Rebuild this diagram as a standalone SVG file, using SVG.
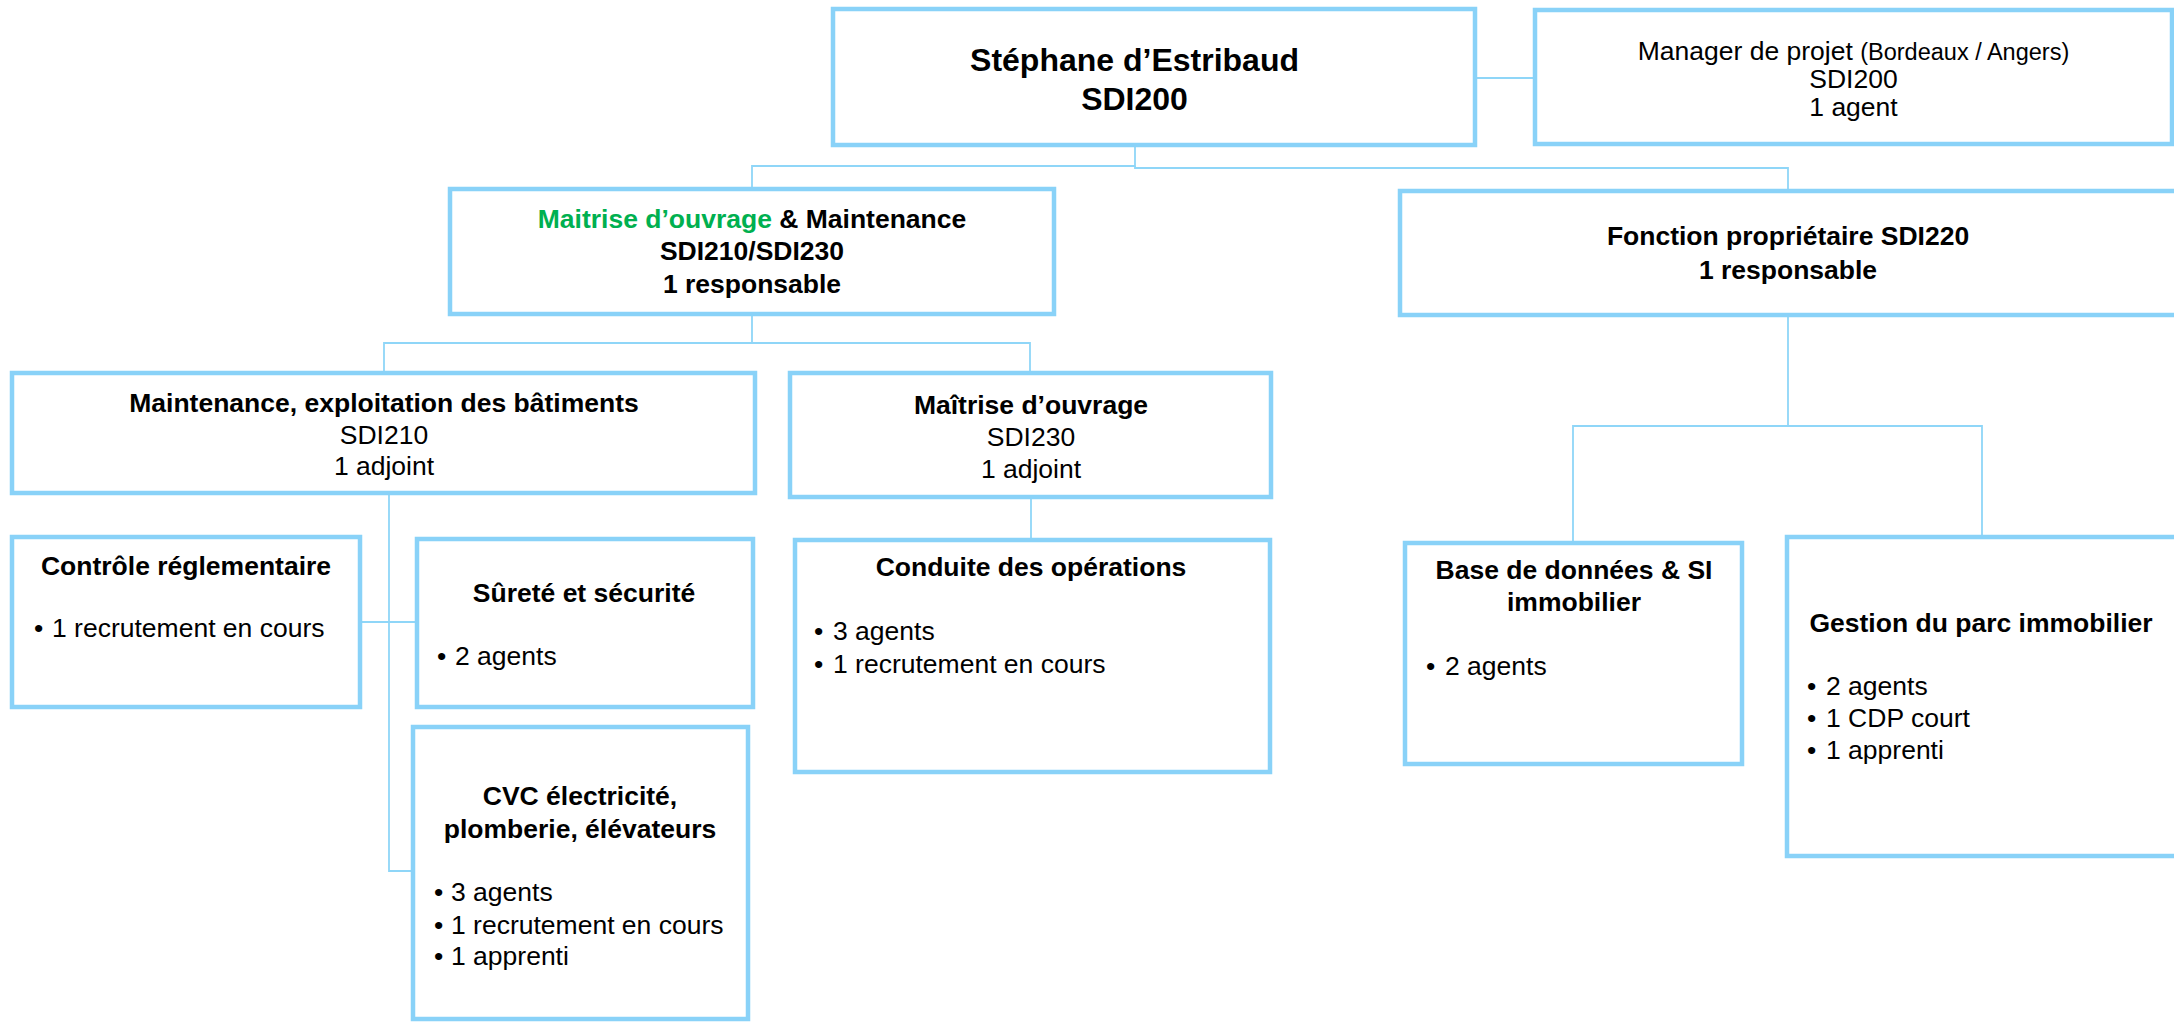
<svg xmlns="http://www.w3.org/2000/svg" width="2174" height="1022" viewBox="0 0 2174 1022">
<style>
.box{fill:#fff;stroke:#89D2F8;stroke-width:4.5}
.con{fill:none;stroke:#8FD6F8;stroke-width:1.8}
text{font-family:"Liberation Sans",Arial,sans-serif;fill:#000}
.t{font-size:26.5px;font-weight:bold;text-anchor:middle}
.r{font-size:26.5px;text-anchor:middle}
.b{font-size:26.5px}
.big{font-size:32px;font-weight:bold;text-anchor:middle}
.g{fill:#00B050}
.m{font-size:26.5px;text-anchor:middle}
</style>
<rect width="2174" height="1022" fill="#fff"/>
<g id="connectors">
<path class="con" d="M1475 78 H1535"/>
<path class="con" d="M1135 145 V166 H752 V189"/>
<path class="con" d="M1135 166 V168 H1788 V191"/>
<path class="con" d="M752 314 V343 H384 V373"/>
<path class="con" d="M752 343 H1030 V373"/>
<path class="con" d="M389 493 V871 H413"/>
<path class="con" d="M360 622 H417"/>
<path class="con" d="M1031 497 V540"/>
<path class="con" d="M1788 315 V426 H1573 V543"/>
<path class="con" d="M1788 426 H1982 V537"/>
</g>
<g id="n-director">
<rect class="box" x="833" y="9" width="642" height="136"/>
<text class="big" x="1134.5" y="71">Stéphane d’Estribaud</text>
<text class="big" x="1134.5" y="110">SDI200</text>
</g>
<g id="n-manager">
<rect class="box" x="1535" y="10" width="637" height="134"/>
<text class="m" x="1853.5" y="60">Manager de projet <tspan style="font-size:23.5px">(Bordeaux / Angers)</tspan></text>
<text class="m" x="1853.5" y="88">SDI200</text>
<text class="m" x="1853.5" y="116">1 agent</text>
</g>
<g id="n-moa-maint">
<rect class="box" x="450" y="189" width="604" height="125"/>
<text class="t" x="752" y="228"><tspan class="g">Maitrise d’ouvrage</tspan> &amp; Maintenance</text>
<text class="t" x="752" y="260">SDI210/SDI230</text>
<text class="t" x="752" y="293">1 responsable</text>
</g>
<g id="n-fonction">
<rect class="box" x="1400" y="191" width="790" height="124"/>
<text class="t" x="1788" y="245">Fonction propriétaire SDI220</text>
<text class="t" x="1788" y="279">1 responsable</text>
</g>
<g id="n-maintenance">
<rect class="box" x="12" y="373" width="743" height="120"/>
<text class="t" x="384" y="412">Maintenance, exploitation des bâtiments</text>
<text class="r" x="384" y="444">SDI210</text>
<text class="r" x="384" y="475">1 adjoint</text>
</g>
<g id="n-moa">
<rect class="box" x="790" y="373" width="481" height="124"/>
<text class="t" x="1031" y="414">Maîtrise d’ouvrage</text>
<text class="r" x="1031" y="446">SDI230</text>
<text class="r" x="1031" y="478">1 adjoint</text>
</g>
<g id="n-controle">
<rect class="box" x="12" y="537" width="348" height="170"/>
<text class="t" x="186" y="575">Contrôle réglementaire</text>
<text class="b" x="34" y="637">•</text><text class="b" x="52" y="637">1 recrutement en cours</text>
</g>
<g id="n-surete">
<rect class="box" x="417" y="539" width="336" height="168"/>
<text class="t" x="584" y="602">Sûreté et sécurité</text>
<text class="b" x="437" y="665">•</text><text class="b" x="455" y="665">2 agents</text>
</g>
<g id="n-cvc">
<rect class="box" x="413" y="727" width="335" height="292"/>
<text class="t" x="580" y="805">CVC électricité,</text>
<text class="t" x="580" y="838">plomberie, élévateurs</text>
<text class="b" x="434" y="901">•</text><text class="b" x="451" y="901">3 agents</text>
<text class="b" x="434" y="934">•</text><text class="b" x="451" y="934">1 recrutement en cours</text>
<text class="b" x="434" y="965">•</text><text class="b" x="451" y="965">1 apprenti</text>
</g>
<g id="n-conduite">
<rect class="box" x="795" y="540" width="475" height="232"/>
<text class="t" x="1031" y="576">Conduite des opérations</text>
<text class="b" x="814" y="640">•</text><text class="b" x="833" y="640">3 agents</text>
<text class="b" x="814" y="673">•</text><text class="b" x="833" y="673">1 recrutement en cours</text>
</g>
<g id="n-bdd">
<rect class="box" x="1405" y="543" width="337" height="221"/>
<text class="t" x="1574" y="579">Base de données &amp; SI</text>
<text class="t" x="1574" y="611">immobilier</text>
<text class="b" x="1426" y="675">•</text><text class="b" x="1445" y="675">2 agents</text>
</g>
<g id="n-gestion">
<rect class="box" x="1787" y="537" width="400" height="319"/>
<text class="t" x="1981" y="632">Gestion du parc immobilier</text>
<text class="b" x="1807" y="695">•</text><text class="b" x="1826" y="695">2 agents</text>
<text class="b" x="1807" y="727">•</text><text class="b" x="1826" y="727">1 CDP court</text>
<text class="b" x="1807" y="759">•</text><text class="b" x="1826" y="759">1 apprenti</text>
</g>
</svg>
